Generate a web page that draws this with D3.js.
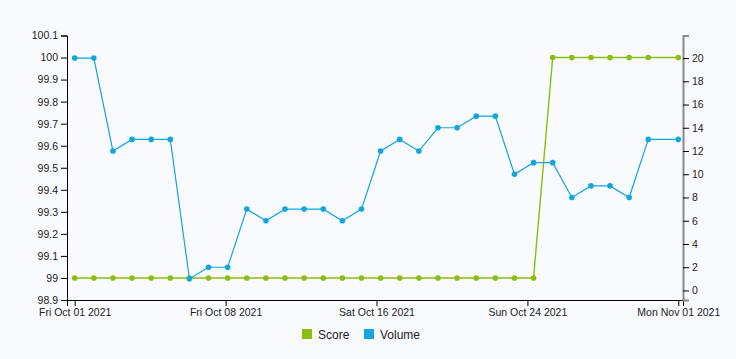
<!DOCTYPE html>
<html>
<head>
<meta charset="utf-8">
<script src="https://cdn.jsdelivr.net/npm/d3@7"></script>
<style>
html,body{margin:0;padding:0;background:#f8fafe;}
svg{display:block;font-family:"Liberation Sans",Arial,sans-serif;}
</style>
</head>
<body>
<svg id="chart" width="736" height="359"></svg>
<script>
const dateStrings = [
  "2021-10-01 00:00","2021-10-02 00:00","2021-10-03 00:00","2021-10-04 00:00","2021-10-05 00:00",
  "2021-10-06 00:00","2021-10-07 00:00","2021-10-08 00:00","2021-10-09 00:00","2021-10-10 00:00",
  "2021-10-11 00:00","2021-10-12 00:00","2021-10-13 00:00","2021-10-14 00:00","2021-10-15 00:00",
  "2021-10-16 00:00","2021-10-17 00:00","2021-10-18 00:00","2021-10-19 00:00","2021-10-20 00:00",
  "2021-10-21 00:00","2021-10-22 00:00","2021-10-23 00:00","2021-10-24 00:00","2021-10-25 00:00",
  "2021-10-26 00:00","2021-10-27 00:00","2021-10-28 00:00","2021-10-29 00:00","2021-10-30 00:00",
  "2021-10-31 00:00","2021-11-01 13:40"
];
const scoreValues = [99,99,99,99,99,99,99,99,99,99,99,99,99,99,99,99,99,99,99,99,99,99,99,99,99,
  100,100,100,100,100,100,100];
const volumeValues = [20,20,12,13,13,13,1,2,2,7,6,7,7,7,6,7,12,13,12,14,14,15,15,10,11,11,8,9,9,8,13,13];
const leftTicks = [98.9,99,99.1,99.2,99.3,99.4,99.5,99.6,99.7,99.8,99.9,100,100.1];
const rightTicks = [0,2,4,6,8,10,12,14,16,18,20];
const seriesNames = ["Score","Volume"];
const seriesColors = ["#8cbf0c","#12a6de"];

const parse = d3.timeParse("%Y-%m-%d %H:%M");
const dates = dateStrings.map(parse);

const svg = d3.select("#chart");
svg.append("rect").attr("width",736).attr("height",359).attr("fill","#f8fafe");

const x = d3.scaleTime().domain([dates[0], dates[dates.length-1]]).range([74.7, 678.3]);
const xAxisScale = x.copy().domain([x.invert(67), x.invert(683)]).range([67, 683]);
const yL = d3.scaleLinear().domain([98.9, 100.1]).range([300, 35.5]);
const yR = d3.scaleLinear().domain([-0.82, 21.94]).range([300, 35.5]);

const d0 = dates[0], d1 = dates[dates.length-1];
const xTickVals = d3.range(5).map(i => new Date(+d0 + i*(d1-d0)/4));

const gx = svg.append("g").attr("transform","translate(0,300)")
  .call(d3.axisBottom(xAxisScale).tickValues(xTickVals).tickFormat(d => d.toDateString()));
const gl = svg.append("g").attr("transform","translate(67,0)")
  .call(d3.axisLeft(yL).tickValues(leftTicks).tickFormat(d => String(+d.toFixed(1))));
const gr = svg.append("g").attr("transform","translate(683,0)")
  .call(d3.axisRight(yR).tickValues(rightTicks));

[gx,gl,gr].forEach(g => {
  g.selectAll("text").attr("font-size","10.5px").attr("fill","#222").attr("font-family","Liberation Sans, Arial, sans-serif");
  g.attr("font-size",null).attr("font-family",null);
});
gr.select(".domain").attr("stroke","#888").attr("stroke-width",2);

function drawSeries(vals, scale, color, w) {
  const pts = dates.map((d,i) => [d, vals[i]]);
  svg.append("path").datum(pts)
    .attr("fill","none").attr("stroke",color).attr("stroke-width",w)
    .attr("d", d3.line().x(p => x(p[0])).y(p => scale(p[1])));
  svg.append("g").selectAll("circle").data(pts).join("circle")
    .attr("cx", p => x(p[0])).attr("cy", p => scale(p[1])).attr("r", 2.8)
    .attr("fill", color);
}
drawSeries(scoreValues, yL, seriesColors[0], 1.4);
drawSeries(volumeValues, yR, seriesColors[1], 1.2);

// legend
const legendX = [302, 364];
const lg = svg.append("g");
seriesNames.forEach((n,i) => {
  lg.append("rect").attr("x", legendX[i]).attr("y", 329).attr("width",10).attr("height",10).attr("fill", seriesColors[i]);
  lg.append("text").attr("x", legendX[i]+16).attr("y", 338.5).attr("font-size","12px").attr("fill","#222").text(n);
});
</script>
</body>
</html>
